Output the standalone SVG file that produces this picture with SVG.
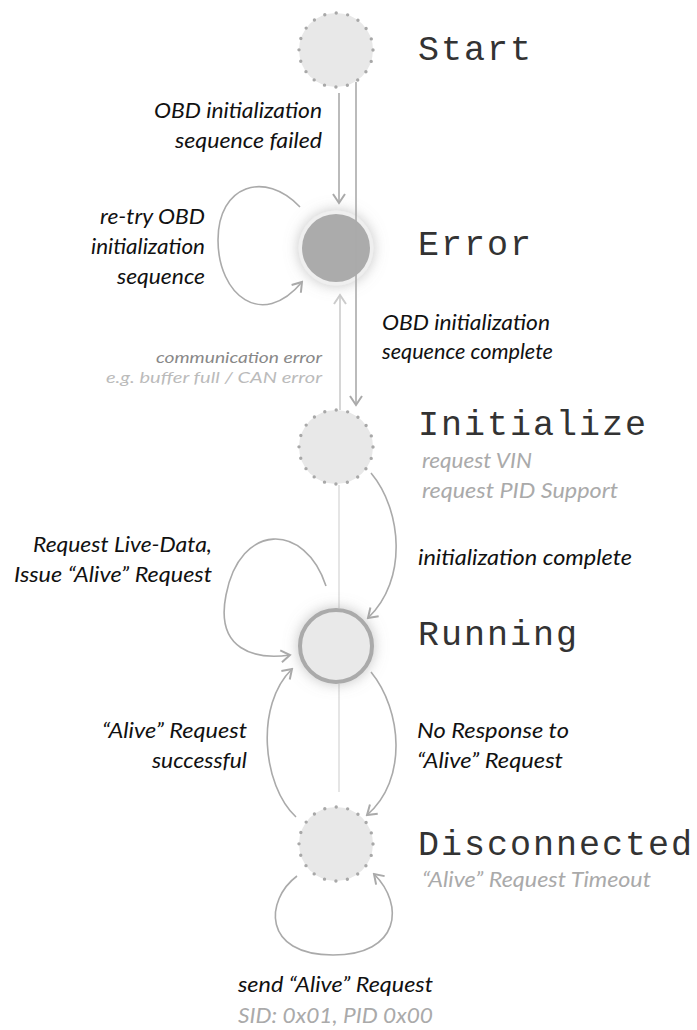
<svg xmlns="http://www.w3.org/2000/svg" width="697" height="1030" viewBox="0 0 697 1030">
<style>
.state{font-family:"Liberation Mono","Courier New",monospace;font-size:35px;letter-spacing:2px;fill:#333}
.lbl{font-family:Lato,"Open Sans","Liberation Sans",sans-serif;font-style:italic;font-size:22px;fill:#111}
.sub{font-family:Lato,"Open Sans","Liberation Sans",sans-serif;font-style:italic;font-size:22px;fill:#aaa}
.small{font-family:Lato,"Open Sans","Liberation Sans",sans-serif;font-style:italic;font-size:16px}
.edge{fill:none;stroke:#aaa;stroke-width:1.6}
.light{fill:none;stroke:#ccc;stroke-width:1.6}
.faint{fill:none;stroke:#ddd;stroke-width:1.5}
.dotted{fill:#e8e8e8;stroke:#a8a8a8;stroke-width:3.4;stroke-linecap:round;stroke-dasharray:0 11.62}
</style>
<defs>
<marker id="ah" viewBox="-12 -8 14 16" markerWidth="14" markerHeight="16" refX="0" refY="0" orient="auto" markerUnits="userSpaceOnUse">
<path d="M -9 -6 L 0 0 L -9 6" fill="none" stroke="#aaa" stroke-width="2"/>
</marker>
<marker id="ahl" viewBox="-12 -8 14 16" markerWidth="14" markerHeight="16" refX="0" refY="0" orient="auto" markerUnits="userSpaceOnUse">
<path d="M -9 -6 L 0 0 L -9 6" fill="none" stroke="#ccc" stroke-width="2"/>
</marker>
<filter id="glow" x="-60%" y="-60%" width="220%" height="220%">
<feDropShadow dx="0" dy="0" stdDeviation="7" flood-color="#888" flood-opacity="0.5"/>
</filter>
</defs>

<g id="connectors">
<path class="faint" d="M 339 485 L 339 608"/>
<path class="faint" d="M 339 684 L 339 792"/>
<path class="edge" d="M 339 93 L 339 203" marker-end="url(#ah)"/>
<path class="light" d="M 340 410 L 340 295" marker-end="url(#ahl)"/>
<path class="edge" d="M 300 207 C 265 170, 218 185, 218 240 C 218 295, 262 330, 302 282" marker-end="url(#ah)"/>
<path class="edge" d="M 371 473 C 402 510, 408 580, 368 618" marker-end="url(#ah)"/>
<path class="edge" d="M 326 586 C 305 522, 240 522, 226 595 C 215 650, 255 660, 290 655" marker-end="url(#ah)"/>
<path class="edge" d="M 371 672 C 402 710, 408 780, 367 815" marker-end="url(#ah)"/>
<path class="edge" d="M 296 817 C 262 785, 255 705, 292 669" marker-end="url(#ah)"/>
<path class="edge" d="M 297 876 C 265 900, 262 955, 333 955 C 400 955, 405 905, 374 874" marker-end="url(#ah)"/>
</g>

<g id="start">
<circle class="dotted" cx="336" cy="50" r="37"/>
<text class="state" x="418" y="60">Start</text>
</g>

<g id="error">
<circle cx="336" cy="248" r="37.5" fill="#efefef" filter="url(#glow)"/>
<circle cx="336" cy="248" r="34" fill="#ababab"/>
<text class="state" x="418" y="255">Error</text>
</g>

<g id="initialize">
<circle class="dotted" cx="336" cy="447" r="37"/>
<text class="state" x="418" y="435">Initialize</text>
<text class="sub" x="422" y="468" textLength="110" lengthAdjust="spacingAndGlyphs">request VIN</text>
<text class="sub" x="422" y="498" textLength="196" lengthAdjust="spacingAndGlyphs">request PID Support</text>
</g>

<g id="running">
<circle cx="336" cy="646" r="36" fill="#e9e9e9" stroke="#aaa" stroke-width="4" filter="url(#glow)"/>
<text class="state" x="418" y="645">Running</text>
</g>

<g id="disconnected">
<circle class="dotted" cx="336" cy="844" r="37"/>
<text class="state" x="418" y="855">Disconnected</text>
<text class="sub" x="422" y="887" textLength="229" lengthAdjust="spacingAndGlyphs">“Alive” Request Timeout</text>
</g>

<path class="edge" d="M 356 82 L 356 405" marker-end="url(#ah)"/>

<g id="labels">
<text class="lbl" x="322" y="118" text-anchor="end" textLength="168" lengthAdjust="spacingAndGlyphs">OBD initialization</text>
<text class="lbl" x="322" y="148" text-anchor="end" textLength="147" lengthAdjust="spacingAndGlyphs">sequence failed</text>
<text class="lbl" x="205" y="224" text-anchor="end" textLength="105" lengthAdjust="spacingAndGlyphs">re-try OBD</text>
<text class="lbl" x="205" y="254" text-anchor="end" textLength="114" lengthAdjust="spacingAndGlyphs">initialization</text>
<text class="lbl" x="205" y="284" text-anchor="end" textLength="88" lengthAdjust="spacingAndGlyphs">sequence</text>
<text class="lbl" x="382" y="330" textLength="168" lengthAdjust="spacingAndGlyphs">OBD initialization</text>
<text class="lbl" x="382" y="359" textLength="171" lengthAdjust="spacingAndGlyphs">sequence complete</text>
<text class="small" x="322" y="363" text-anchor="end" fill="#888" textLength="166" lengthAdjust="spacingAndGlyphs">communication error</text>
<text class="small" x="322" y="383" text-anchor="end" fill="#bbb" textLength="216" lengthAdjust="spacingAndGlyphs">e.g. buffer full /  CAN error</text>
<text class="lbl" x="418" y="565" textLength="214" lengthAdjust="spacingAndGlyphs">initialization complete</text>
<text class="lbl" x="212" y="552" text-anchor="end" textLength="179" lengthAdjust="spacingAndGlyphs">Request Live-Data,</text>
<text class="lbl" x="212" y="582" text-anchor="end" textLength="198" lengthAdjust="spacingAndGlyphs">Issue “Alive” Request</text>
<text class="lbl" x="247" y="738" text-anchor="end" textLength="145" lengthAdjust="spacingAndGlyphs">“Alive” Request</text>
<text class="lbl" x="247" y="768" text-anchor="end" textLength="95" lengthAdjust="spacingAndGlyphs">successful</text>
<text class="lbl" x="417" y="738" textLength="152" lengthAdjust="spacingAndGlyphs">No Response to</text>
<text class="lbl" x="417" y="768" textLength="146" lengthAdjust="spacingAndGlyphs">“Alive” Request</text>
<text class="lbl" x="238" y="992" textLength="195" lengthAdjust="spacingAndGlyphs">send “Alive” Request</text>
<text class="sub" x="238" y="1023" textLength="195" lengthAdjust="spacingAndGlyphs">SID: 0x01, PID 0x00</text>
</g>
</svg>
